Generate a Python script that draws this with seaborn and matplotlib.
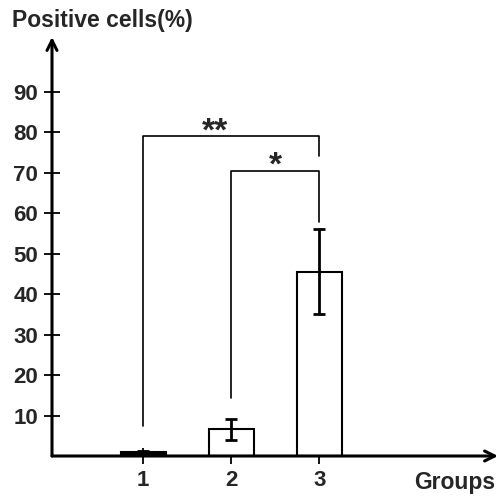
import pandas as pd
import matplotlib
matplotlib.use("Agg")
import matplotlib.pyplot as plt
import seaborn as sns

# --- Data ---
groups = ['1', '2', '3']
means = [1.0, 6.6, 45.5]
errs = [0.3, 2.6, 10.5]
bar_fill = ['black', 'white', 'white']

# significance brackets: (group_left, group_right, height, left_end, right_end, label)
bracket_left = [0, 1]
bracket_right = [2, 2]
bracket_height = [79.0, 70.5]
bracket_left_end = [7.4, 14.3]
bracket_right_end = [74.0, 57.8]
bracket_labels = ['**', '*']

y_ticks = [10, 20, 30, 40, 50, 60, 70, 80, 90]

df = pd.DataFrame({'Group': groups, 'Value': means})

sns.set_theme(style="white")
plt.rcParams['font.family'] = ['Liberation Sans', 'DejaVu Sans']
plt.rcParams['font.weight'] = 'bold'

fig = plt.figure(figsize=(5.01, 4.96), dpi=100)
ax = fig.add_axes([52 / 501, 1 - 456 / 496, (498 - 52) / 501, (456 - 37) / 496])

sns.barplot(data=df, x='Group', y='Value', hue='Group', palette=bar_fill, legend=False,
            edgecolor='black', linewidth=1.5, width=0.51, errorbar=None, ax=ax)
ax.errorbar(range(len(groups)), means, yerr=errs, fmt='none', ecolor='black',
            elinewidth=2.0, capsize=4.5, capthick=2.0)

# brackets
for xl, xr, h, yl, yr, lab in zip(bracket_left, bracket_right, bracket_height,
                                  bracket_left_end, bracket_right_end, bracket_labels):
    ax.plot([xl, xl, xr, xr], [yl, h, h, yr], color='black', lw=1.2, clip_on=False)
    xt = (xl + xr) / 2 if len(lab) == 1 else xl + 0.82
    ax.text(xt, h - 2.8, lab, ha='center', va='bottom', fontsize=24, fontweight='bold')

ax.set_xlim(-1.034, 4.03)
ax.set_ylim(0, 103.5)
ax.set_yticks(y_ticks)
ax.set_yticklabels([str(t) for t in y_ticks], fontsize=16, fontweight='bold')
ax.set_xticks(range(len(groups)))
ax.set_xticklabels(groups, fontsize=16, fontweight='bold')
ax.tick_params(axis='both', direction='inout', length=12, width=1.3, color='black',
               bottom=True, left=True, pad=4)
ax.set_xlabel('')
ax.set_ylabel('')
for s in ax.spines.values():
    s.set_visible(False)

# axis arrows
arrow = dict(arrowstyle='->,head_length=0.6,head_width=0.3', lw=2.2, color='black',
             shrinkA=0, shrinkB=0)
ax.annotate('', xy=(0, 1), xytext=(0, 0), xycoords='axes fraction', arrowprops=arrow)
ax.annotate('', xy=(1, 0), xytext=(0, 0), xycoords='axes fraction', arrowprops=arrow)

fig.text(12 / 501, 1 - 20 / 496, 'Positive cells(%)', ha='left', va='center',
         fontsize=16.5, fontweight='bold')
fig.text(455 / 501, 1 - 482 / 496, 'Groups', ha='center', va='center',
         fontsize=16.5, fontweight='bold')

fig.savefig('out.png', dpi=100)
